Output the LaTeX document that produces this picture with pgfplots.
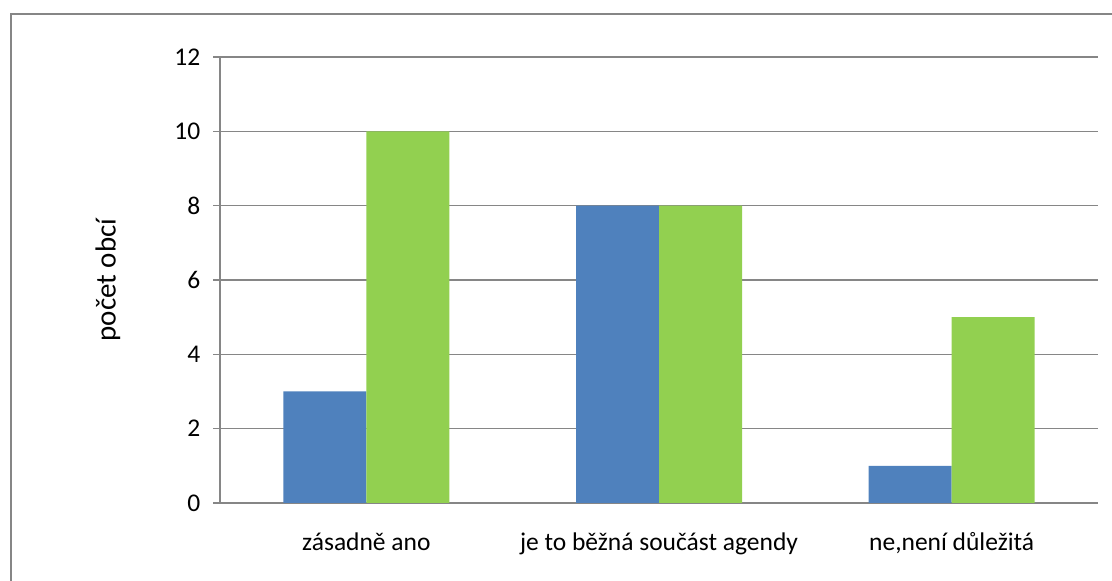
\documentclass[border=0pt]{standalone}
\usepackage{fontspec}
\setmainfont{Carlito}
\usepackage{pgfplots}
\pgfplotsset{compat=1.18}
\definecolor{barblue}{HTML}{4F81BD}
\definecolor{bargreen}{HTML}{92D050}
\definecolor{axgray}{HTML}{868686}
\begin{document}
\begin{tikzpicture}[x=1pt,y=1pt]
\fontsize{25.5}{30}\selectfont
\path[use as bounding box] (0,0) rectangle (1112,581);
\draw[axgray, line width=1.6pt] (11,0) -- (11,567) -- (1113,567);
\begin{axis}[
  at={(220pt,78pt)}, anchor=south west,
  scale only axis, width=878pt, height=446pt,
  ybar=0pt, bar width=83pt,
  ymin=0, ymax=12, ytick={0,2,...,12},
  xmin=-0.5, xmax=2.5,
  xtick={0,1,2},
  xticklabels={zásadně ano, je to běžná součást agendy, {ne,není důležitá}},
  extra x ticks={-0.5,0.5,1.5,2.5},
  extra x tick labels={},
  extra x tick style={major tick length=7pt, tick align=outside, tick style={axgray, line width=1.2pt}},
  major x tick style={draw=none},
  axis x line*=bottom, axis y line*=left,
  axis line style={axgray, line width=1.2pt, -},
  ymajorgrids, grid style={axgray, line width=1.2pt},
  y tick style={axgray, line width=1.2pt},
  major tick length=7pt, tick align=outside,
  /pgf/number format/assume math mode=true,
  ticklabel style={font=\fontsize{25.5}{30}\selectfont, text=black},
  yticklabel style={xshift=-4pt},
  xticklabel style={yshift=-14pt},
  ylabel={počet obcí},
  ylabel style={font=\fontsize{29}{34}\selectfont, at={(axis description cs:0,0.5)}, anchor=center, yshift=112pt},
  enlarge x limits=false,
  clip=false,
]
\addplot[fill=barblue, draw=none] coordinates {(0,3) (1,8) (2,1)};
\addplot[fill=bargreen, draw=none] coordinates {(0,10) (1,8) (2,5)};
\end{axis}
\end{tikzpicture}
\end{document}
